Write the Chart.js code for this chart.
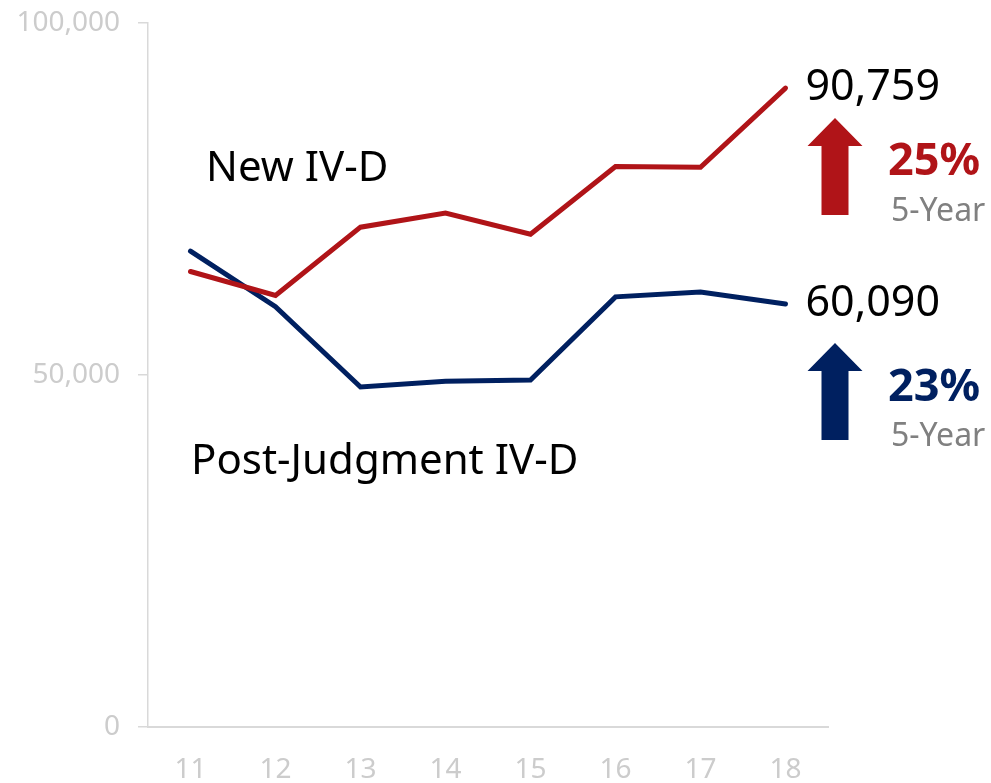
<!DOCTYPE html>
<html>
<head>
<meta charset="utf-8">
<script src="https://cdn.jsdelivr.net/npm/chart.js@4.4.1/dist/chart.umd.min.js"></script>
<style>
    html, body { margin: 0; padding: 0; background: #ffffff; }
    #wrap { width: 991px; height: 783px; }
</style>
</head>
<body>
<div id="wrap"><canvas id="chart"></canvas></div>
<script>
// Datos del gráfico.
const YEARS = ['11', '12', '13', '14', '15', '16', '17', '18'];
const NEW_IVD = [64700, 61300, 71000, 73000, 70000, 79600, 79500, 90759];
const POST_JUDGMENT = [67600, 59700, 48300, 49100, 49300, 61100, 61800, 60090];
const Y_TICKS = [0, 50000, 100000];
const CHANGE_NEW = '25%';
const CHANGE_POST = '23%';

const RED = '#b01418';
const NAVY = '#002060';
const FONT = '"Noto Sans", "Open Sans", sans-serif';

// Plugin para dibujar etiquetas, flechas y porcentajes.
const annotations = {
    id: 'annotations',
    afterDatasetsDraw(chart) {
        const ctx = chart.ctx;
        const x = chart.scales.x;
        const y = chart.scales.y;
        const last = YEARS.length - 1;
        const lx = x.getPixelForValue(last);

        ctx.save();
        ctx.textBaseline = 'middle';
        ctx.textAlign = 'left';

        // Nombres de las series.
        ctx.fillStyle = '#000000';
        ctx.font = `42px ${FONT}`;
        ctx.fillText('New IV-D', 206, 169);
        ctx.fillText('Post-Judgment IV-D', 191, 462);

        // Valores finales.
        ctx.font = `43px ${FONT}`;
        ctx.fillText(NEW_IVD[last].toLocaleString('en-US'), lx + 20, y.getPixelForValue(NEW_IVD[last]));
        ctx.fillText(POST_JUDGMENT[last].toLocaleString('en-US'), lx + 20, y.getPixelForValue(POST_JUDGMENT[last]));

        const drawArrow = (top, color) => {
            const left = lx + 22;
            ctx.fillStyle = color;
            ctx.beginPath();
            ctx.moveTo(left + 27.5, top);
            ctx.lineTo(left + 55, top + 28);
            ctx.lineTo(left + 41, top + 28);
            ctx.lineTo(left + 41, top + 97);
            ctx.lineTo(left + 14, top + 97);
            ctx.lineTo(left + 14, top + 28);
            ctx.lineTo(left, top + 28);
            ctx.closePath();
            ctx.fill();
        };
        drawArrow(118, RED);
        drawArrow(343, NAVY);

        ctx.font = `bold 45px ${FONT}`;
        ctx.fillStyle = RED;
        ctx.fillText(CHANGE_NEW, 888, 162);
        ctx.fillStyle = NAVY;
        ctx.fillText(CHANGE_POST, 888, 388);

        ctx.font = `32px ${FONT}`;
        ctx.fillStyle = '#808080';
        ctx.fillText('5-Year', 891, 212);
        ctx.fillText('5-Year', 891, 437);
        ctx.restore();
    }
};

new Chart(document.getElementById('chart'), {
    type: 'line',
    data: {
        labels: YEARS,
        datasets: [{
            label: 'New IV-D',
            data: NEW_IVD,
            borderColor: RED,
            borderWidth: 5,
            pointRadius: 0,
            tension: 0,
            borderCapStyle: 'round'
        }, {
            label: 'Post-Judgment IV-D',
            data: POST_JUDGMENT,
            borderColor: NAVY,
            borderWidth: 5,
            pointRadius: 0,
            tension: 0,
            borderCapStyle: 'round'
        }]
    },
    options: {
        responsive: true,
        maintainAspectRatio: false,
        animation: false,
        events: [],
        layout: { padding: { top: 23, right: 163, left: 0, bottom: 0 } },
        plugins: {
            legend: { display: false },
            tooltip: { enabled: false }
        },
        scales: {
            x: {
                offset: true,
                grid: { display: false },
                border: { display: true, color: '#d9d9d9', width: 2 },
                ticks: {
                    color: '#cccccc',
                    font: { family: FONT, size: 28 },
                    padding: 18,
                    maxRotation: 0
                },
                afterFit: (scale) => {
                    scale.height = 56;
                    scale.paddingLeft = 0;
                    scale.paddingRight = 0;
                }
            },
            y: {
                min: 0,
                max: 100000,
                afterBuildTicks: (scale) => { scale.ticks = Y_TICKS.map(v => ({ value: v })); },
                grid: {
                    drawOnChartArea: false,
                    color: '#d9d9d9',
                    tickLength: 10,
                    lineWidth: 1.5
                },
                border: { display: true, color: '#d9d9d9', width: 1.5 },
                ticks: {
                    color: '#cccccc',
                    font: { family: FONT, size: 28 },
                    padding: 18,
                    callback: (v) => v.toLocaleString('en-US')
                },
                afterFit: (scale) => {
                    scale.width = 148;
                    scale.paddingTop = 0;
                    scale.paddingBottom = 0;
                }
            }
        }
    },
    plugins: [annotations]
});
</script>
</body>
</html>
